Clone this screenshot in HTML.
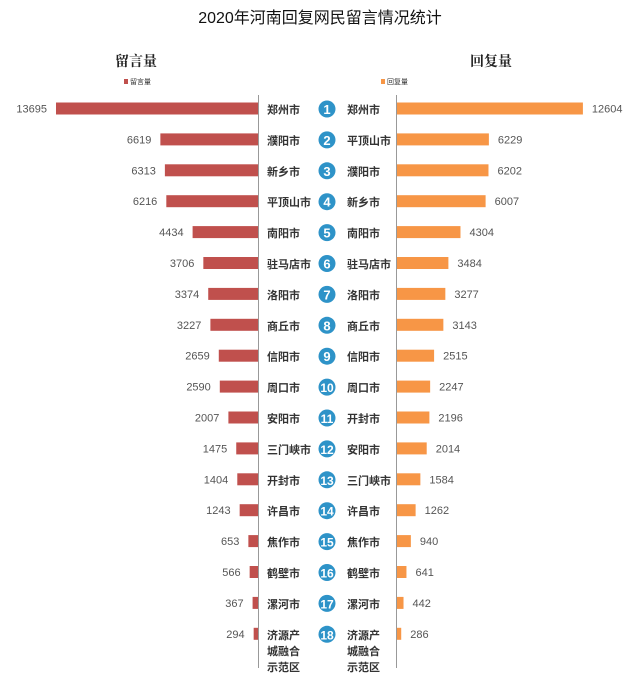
<!DOCTYPE html>
<html><head><meta charset="utf-8"><style>
body{margin:0;background:#fff;}
svg text{font-family:"Liberation Sans","Noto Sans CJK SC",sans-serif;}
</style></head><body>
<svg width="640" height="682" viewBox="0 0 640 682" xmlns="http://www.w3.org/2000/svg">
<text x="320" y="23" font-size="16" text-anchor="middle" fill="#111">2020年河南回复网民留言情况统计</text>
<text x="136" y="66" font-size="14" font-weight="bold" text-anchor="middle" fill="#222" style="font-family:'Noto Serif CJK SC',serif">留言量</text>
<text x="491" y="66" font-size="14" font-weight="bold" text-anchor="middle" fill="#222" style="font-family:'Noto Serif CJK SC',serif">回复量</text>
<rect x="124" y="79" width="4" height="5" fill="#c0504d"/><text x="130" y="84" font-size="7" fill="#333">留言量</text>
<rect x="381" y="79" width="4" height="5" fill="#f79646"/><text x="387" y="84" font-size="7" fill="#333">回复量</text>
<line x1="258.5" y1="95" x2="258.5" y2="668" stroke="#999" stroke-width="1"/>
<line x1="396.5" y1="95" x2="396.5" y2="668" stroke="#999" stroke-width="1"/>
<g id="rows"></g>
</svg>
<script>
var L=[["郑州市",13695],["濮阳市",6619],["新乡市",6313],["平顶山市",6216],["南阳市",4434],["驻马店市",3706],["洛阳市",3374],["商丘市",3227],["信阳市",2659],["周口市",2590],["安阳市",2007],["三门峡市",1475],["开封市",1404],["许昌市",1243],["焦作市",653],["鹤壁市",566],["漯河市",367],["济源产",294]];
var R=[["郑州市",12604],["平顶山市",6229],["濮阳市",6202],["新乡市",6007],["南阳市",4304],["驻马店市",3484],["洛阳市",3277],["商丘市",3143],["信阳市",2515],["周口市",2247],["开封市",2196],["安阳市",2014],["三门峡市",1584],["许昌市",1262],["焦作市",940],["鹤壁市",641],["漯河市",442],["济源产",286]];
var s=0.01475,h="";
for(var i=0;i<18;i++){
var y=108.5+30.9*i;
var wl=L[i][1]*s,wr=R[i][1]*s;
h+='<rect x="'+(258-wl)+'" y="'+(y-6)+'" width="'+wl+'" height="12" fill="#c0504d"/>';
h+='<text x="'+(258-wl-9)+'" y="'+(y+4)+'" font-size="11" text-anchor="end" fill="#555">'+L[i][1]+'</text>';
h+='<rect x="397" y="'+(y-6)+'" width="'+wr+'" height="12" fill="#f79646"/>';
h+='<text x="'+(397+wr+9)+'" y="'+(y+4)+'" font-size="11" fill="#555">'+R[i][1]+'</text>';
h+='<text x="267" y="'+(y+5)+'" font-size="11" font-weight="bold" fill="#333">'+L[i][0]+'</text>';
h+='<text x="347" y="'+(y+5)+'" font-size="11" font-weight="bold" fill="#333">'+R[i][0]+'</text>';
h+='<circle cx="327" cy="'+(y+0.5)+'" r="8.5" fill="#2e93c8"/>';
h+='<text x="327" y="'+(y+5.5)+'" font-size="'+(i<9?13:12)+'" font-weight="bold" text-anchor="middle" fill="#fff">'+(i+1)+'</text>';
}
var y=108.5+30.9*17;
h+='<text x="267" y="'+(y+21)+'" font-size="11" font-weight="bold" fill="#333">城融合</text><text x="267" y="'+(y+37)+'" font-size="11" font-weight="bold" fill="#333">示范区</text>';
h+='<text x="347" y="'+(y+21)+'" font-size="11" font-weight="bold" fill="#333">城融合</text><text x="347" y="'+(y+37)+'" font-size="11" font-weight="bold" fill="#333">示范区</text>';
document.getElementById("rows").innerHTML=h;
</script>
</body></html>
